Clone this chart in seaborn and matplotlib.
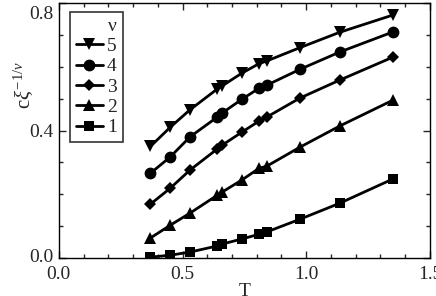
import numpy as np
import pandas as pd
import seaborn as sns
from matplotlib import pyplot as plt
from matplotlib.ticker import MultipleLocator
from matplotlib.transforms import ScaledTranslation

T = [0.37, 0.45, 0.53, 0.64, 0.66, 0.74, 0.81, 0.84, 0.975, 1.135, 1.35]
nu1 = [0.003, 0.009, 0.019, 0.038, 0.044, 0.060, 0.075, 0.082, 0.122, 0.172, 0.248]
nu2 = [0.063, 0.103, 0.141, 0.197, 0.207, 0.245, 0.282, 0.288, 0.348, 0.414, 0.495]
nu3 = [0.169, 0.219, 0.276, 0.342, 0.354, 0.395, 0.430, 0.442, 0.502, 0.558, 0.630]
nu4 = [0.266, 0.317, 0.380, 0.442, 0.455, 0.498, 0.533, 0.542, 0.592, 0.646, 0.709]
nu5 = [0.350, 0.410, 0.465, 0.530, 0.540, 0.580, 0.610, 0.618, 0.660, 0.708, 0.762]
nus = ['5', '4', '3', '2', '1']

rows = []
for nu, vals in zip(['1', '2', '3', '4', '5'], [nu1, nu2, nu3, nu4, nu5]):
    for t, v in zip(T, vals):
        rows.append({'T': t, 'val': v, 'nu': nu})
df = pd.DataFrame(rows)

sns.set_style('ticks')
plt.rcParams['font.family'] = 'serif'
plt.rcParams['font.serif'] = ['Liberation Serif', 'DejaVu Serif']
plt.rcParams['mathtext.fontset'] = 'custom'
plt.rcParams['mathtext.rm'] = 'Liberation Serif'
plt.rcParams['mathtext.it'] = 'Liberation Serif:italic'

fig = plt.figure(figsize=(4.36, 2.96), dpi=100)
ax = fig.add_axes([0.135, 0.128, 0.851, 0.862])

markers = {'5': 'v', '4': 'o', '3': 'D', '2': '^', '1': 's'}
sizes = {'5': 8, '4': 8.5, '3': 6, '2': 8, '1': 6.5}
for nu in nus:
    sub = df[df['nu'] == nu]
    sns.lineplot(data=sub, x='T', y='val', ax=ax, color='black', linewidth=2,
                 marker=markers[nu], markersize=sizes[nu], markeredgewidth=0,
                 label=nu)

ax.set_xlim(0, 1.5)
ax.set_ylim(0, 0.8)
ax.xaxis.set_major_locator(MultipleLocator(0.5))
ax.xaxis.set_minor_locator(MultipleLocator(0.1))
ax.yaxis.set_major_locator(MultipleLocator(0.4))
ax.yaxis.set_minor_locator(MultipleLocator(0.1))
ax.xaxis.set_major_formatter(plt.FormatStrFormatter('%.1f'))
ax.yaxis.set_major_formatter(plt.FormatStrFormatter('%.1f'))
ax.tick_params(which='both', direction='in', top=True, right=True, labelsize=14, width=1)
ax.tick_params(which='major', length=5)
ax.tick_params(axis='x', which='major', pad=6)
ax.tick_params(axis='y', which='major', pad=4)
ax.tick_params(which='minor', length=3)
for s in ax.spines.values():
    s.set_linewidth(1)
    s.set_color('black')

# nudge end labels on y axis like the original
fig.canvas.draw()
for tick in ax.yaxis.get_major_ticks():
    loc = round(tick.get_loc(), 2)
    if loc == 0.0:
        tick.label1.set_transform(tick.label1.get_transform() + ScaledTranslation(0, 2 / 72, fig.dpi_scale_trans))
    elif loc == 0.8:
        tick.label1.set_transform(tick.label1.get_transform() + ScaledTranslation(0, -7 / 72, fig.dpi_scale_trans))

ax.set_xlabel('T', fontsize=14, labelpad=0)
ax.set_ylabel(r'c$\xi^{-1/\nu}$', fontsize=15)
ax.yaxis.set_label_coords(-0.062, 0.68)

leg = ax.legend(title='ν', loc='upper left', bbox_to_anchor=(0.03, 0.965), fontsize=14,
                title_fontsize=14, frameon=True, fancybox=False, handlelength=1.4,
                handletextpad=0.2, borderpad=0.3, labelspacing=0.14, borderaxespad=0)
leg.get_frame().set_edgecolor('black')
leg.get_frame().set_linewidth(1.2)
leg._legend_box.align = 'right'

fig.savefig('out.png', dpi=100)
